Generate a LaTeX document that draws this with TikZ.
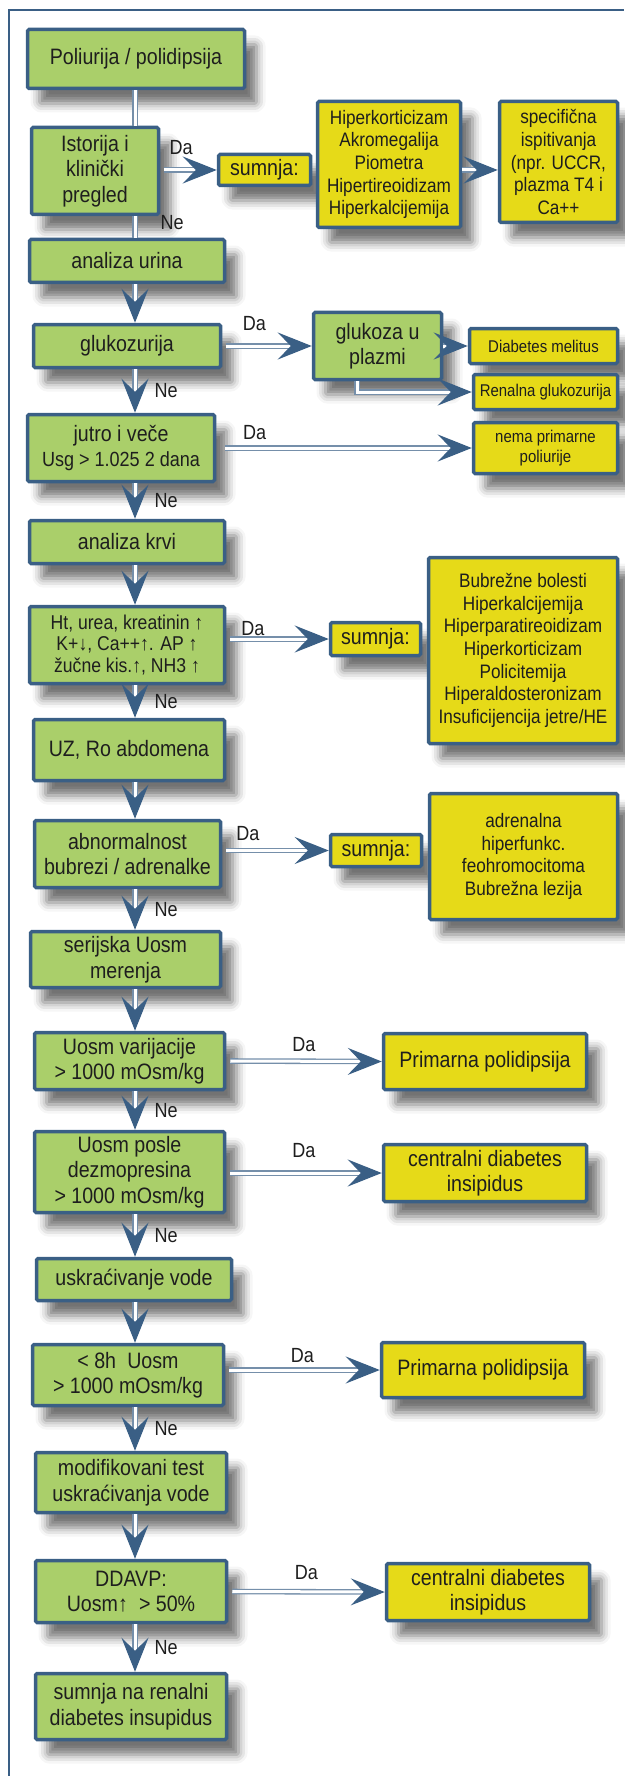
\documentclass[tikz,border=0pt]{standalone}
\usepackage{fontspec}
\setmainfont{Liberation Sans}[FakeStretch=0.88]
\usetikzlibrary{arrows.meta,positioning,shadows.blur}
\definecolor{okvir}{RGB}{58,95,133}
\definecolor{zelena}{RGB}{170,207,106}
\definecolor{zuta}{RGB}{230,218,24}
\definecolor{senka}{RGB}{100,130,168}
\definecolor{tekst}{RGB}{30,30,30}
\tikzset{
    box/.style={draw=okvir, line width=3.5pt, rounded corners=1.5pt, align=center,
        text=tekst, inner sep=2pt, font=\fontsize{22.3}{25.5}\selectfont,
        blur shadow={shadow xshift=12pt, shadow yshift=-15pt,
            shadow blur radius=9pt, shadow opacity=55, fill=senka}},
    test/.style={box, fill=zelena}, % zeleni koraci
    result/.style={box, fill=zuta}, % zuti zakljucci
    list/.style={font=\fontsize{19.5}{22.6}\selectfont},
    small/.style={font=\fontsize{17}{19.5}\selectfont},
    dline/.style={draw=okvir!70, line width=1.3pt, double=white, double distance=3pt},
    darrow/.style={dline, -{Stealth[length=34pt, width=27pt, inset=13pt, color=okvir]}},
    harrow/.style={darrow, shorten <=4pt},
    answer/.style={font=\fontsize{20.5}{22}\selectfont, text=tekst, inner sep=1pt},
}

\begin{document}
\begin{tikzpicture}[x=1pt, y=-1pt]
    \useasboundingbox (0,0) rectangle (624,1776);
    % Okvir
    \draw[okvir, line width=2.4pt] (9,1776) -- (9,10) -- (624,10);
    \coordinate (os) at (135,0);
    \coordinate (lakat) at (357,0);

    % Koraci
    \node[test, minimum width=217pt, minimum height=59pt] (poli) at (136,59) {Poliurija / polidipsija};
    \node[test, minimum width=127pt, minimum height=87pt] (ist) at (95,171) {Istorija i\\klinički\\pregled};
    \node[result, minimum width=92pt, minimum height=31pt] (sum1) at (264.5,170) {sumnja:};
    \node[result, list, minimum width=143pt, minimum height=126pt] (hiper) at (389,164.5) {Hiperkorticizam\\Akromegalija\\Piometra\\Hipertireoidizam\\Hiperkalcijemija};
    \node[result, list, minimum width=118pt, minimum height=121pt] (spec) at (558.5,162) {specifična\\ispitivanja\\(npr. UCCR,\\plazma T4 i\\Ca++};
    \node[test, minimum width=195pt, minimum height=43pt] (urin) at (127,261) {analiza urina};
    \node[test, minimum width=187pt, minimum height=43pt] (gluk) at (127,346) {glukozurija};
    \node[test, minimum width=128pt, minimum height=67pt] (plaz) at (377.5,346) {glukoza u\\plazmi};
    \node[result, small, minimum width=148pt, minimum height=35pt] (dm) at (543.5,346) {Diabetes melitus};
    \node[result, small, minimum width=144pt, minimum height=35pt] (ren) at (545.5,392) {Renalna glukozurija};
    \node[test, minimum width=187pt, minimum height=67pt] (jutro) at (121,448) {jutro i veče\\{\fontsize{20.5}{25.5}\selectfont Usg > 1.025 2 dana}};
    \node[result, small, minimum width=144pt, minimum height=51pt] (nema) at (545.5,448) {nema primarne\\poliurije};
    \node[test, minimum width=195pt, minimum height=43pt] (krv) at (127,542) {analiza krvi};
    \node[test, font=\fontsize{20}{21.8}\selectfont, minimum width=195pt, minimum height=77pt] (ht) at (127,645) {Ht, urea, kreatinin ↑\\K+↓, Ca++↑. AP ↑\\žučne kis.↑, NH3 ↑};
    \node[result, minimum width=90pt, minimum height=33pt] (sum2) at (375.5,639) {sumnja:};
    \node[result, list, minimum width=189pt, minimum height=186pt] (bubr) at (523,650.5) {Bubrežne bolesti\\Hiperkalcijemija\\Hiperparatireoidizam\\Hiperkorticizam\\Policitemija\\Hiperaldosteronizam\\Insuficijencija jetre/HE};
    \node[test, minimum width=191pt, minimum height=61pt] (uz) at (129,750) {UZ, Ro abdomena};
    \node[test, minimum width=186pt, minimum height=67pt] (abn) at (127.5,854) {abnormalnost\\bubrezi / adrenalke};
    \node[result, minimum width=91pt, minimum height=32pt] (sum3) at (376,850.5) {sumnja:};
    \node[result, list, minimum width=188pt, minimum height=126pt] (adr) at (523.5,856.5) {adrenalna\\hiperfunkc.\\feohromocitoma\\Bubrežna lezija};
    \node[test, minimum width=190pt, minimum height=56pt] (ser) at (125.5,959.5) {serijska Uosm\\merenja};
    \node[test, minimum width=190pt, minimum height=57pt] (var) at (129.5,1061) {Uosm varijacije\\> 1000 mOsm/kg};
    \node[result, minimum width=203pt, minimum height=56pt] (pp1) at (485,1061.5) {Primarna polidipsija};
    \node[test, minimum width=190pt, minimum height=81pt] (pos) at (129.5,1172) {Uosm posle\\dezmopresina\\> 1000 mOsm/kg};
    \node[result, minimum width=203pt, minimum height=57pt] (cdi1) at (485,1173) {centralni diabetes\\insipidus};
    \node[test, minimum width=195pt, minimum height=42pt] (usk) at (134,1279.5) {uskraćivanje vode};
    \node[test, minimum width=191pt, minimum height=61pt] (h8) at (128,1375) {< 8h\enspace Uosm\\> 1000 mOsm/kg};
    \node[result, minimum width=203pt, minimum height=55pt] (pp2) at (483,1370) {Primarna polidipsija};
    \node[test, minimum width=191pt, minimum height=60pt] (mod) at (131,1482.5) {modifikovani test\\uskraćivanja vode};
    \node[test, minimum width=191pt, minimum height=62pt] (ddavp) at (131,1591.5) {DDAVP:\\Uosm↑\enspace> 50\%};
    \node[result, minimum width=203pt, minimum height=57pt] (cdi2) at (488,1592) {centralni diabetes\\insipidus};
    \node[test, minimum width=191pt, minimum height=66pt] (ren2) at (131,1706.5) {sumnja na renalni\\diabetes insupidus};

    % Strelice
    \path
    (poli.south -| os) edge[dline] (ist.north -| os)
    (ist.south -| os) edge[dline] node[answer, right=24pt, pos=.3] {Ne} (urin.north -| os)
    (ist.east |- sum1) edge[harrow] node[answer, above=14pt, pos=.37] {Da} (sum1.west)
    (hiper.east |- sum1) edge[darrow] (spec.west |- sum1)
    (urin.south -| os) edge[darrow] (gluk.north -| os)
    (gluk.east) edge[harrow] node[answer, above=14pt, pos=.36] {Da} (plaz.west)
    (plaz.east) edge[darrow] (dm.west)
    (gluk.south -| os) edge[darrow] node[answer, right=18pt] {Ne} (jutro.north -| os)
    (jutro.east) edge[harrow, shorten <=9pt] node[answer, above=7pt, pos=.15] {Da} (nema.west)
    (jutro.south -| os) edge[darrow] node[answer, right=18pt] {Ne} (krv.north -| os)
    (krv.south -| os) edge[darrow] (ht.north -| os)
    (ht.east |- sum2) edge[harrow] node[answer, above=2pt, pos=.26] {Da} (sum2.west)
    (ht.south -| os) edge[darrow] node[answer, right=18pt] {Ne} (uz.north -| os)
    (uz.south -| os) edge[darrow] (abn.north -| os)
    (abn.east |- sum3) edge[harrow] node[answer, above=8pt, pos=.24] {Da} (sum3.west)
    (abn.south -| os) edge[darrow] node[answer, right=18pt] {Ne} (ser.north -| os)
    (ser.south -| os) edge[darrow] (var.north -| os)
    (var.east) edge[harrow] node[answer, above=8pt] {Da} (pp1.west)
    (var.south -| os) edge[darrow] node[answer, right=18pt] {Ne} (pos.north -| os)
    (pos.east |- cdi1) edge[harrow] node[answer, above=14pt] {Da} (cdi1.west)
    (pos.south -| os) edge[darrow] node[answer, right=18pt] {Ne} (usk.north -| os)
    (usk.south -| os) edge[darrow] (h8.north -| os)
    (h8.east |- pp2) edge[harrow] node[answer, above=6pt] {Da} (pp2.west)
    (h8.south -| os) edge[darrow] node[answer, right=18pt] {Ne} (mod.north -| os)
    (mod.south -| os) edge[darrow] (ddavp.north -| os)
    (ddavp.east) edge[harrow] node[answer, above=10pt] {Da} (cdi2.west)
    (ddavp.south -| os) edge[darrow] node[answer, right=18pt] {Ne} (ren2.north -| os);
    \draw[darrow] (plaz.south -| lakat) |- (ren.west);
\end{tikzpicture}
\end{document}
